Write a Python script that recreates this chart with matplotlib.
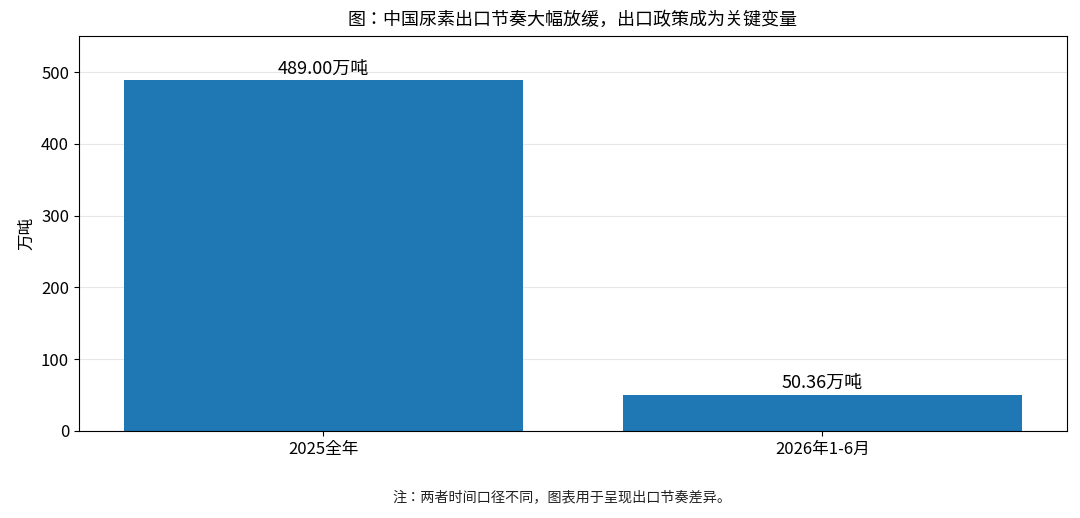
import numpy as np
import matplotlib
matplotlib.use("Agg")
import matplotlib.pyplot as plt

plt.rcParams['font.family'] = ['Noto Sans CJK JP', 'DejaVu Sans']
plt.rcParams['axes.unicode_minus'] = False

# data
categories = ['2025全年', '2026年1-6月']
values = [489.00, 50.36]
unit = '万吨'
title = '图：中国尿素出口节奏大幅放缓，出口政策成为关键变量'
note = '注：两者时间口径不同，图表用于呈现出口节奏差异。'

fig = plt.figure(figsize=(10.8, 5.18), dpi=100)
ax = fig.add_axes([0.073, 0.168, 0.915, 0.762])

x = np.arange(len(categories))
bars = ax.bar(x, values, width=0.8, color='#1f77b4')
ax.set_xticks(x)
ax.set_xticklabels(categories, fontsize=12)
ax.tick_params(axis='y', labelsize=12)
ax.set_ylim(0, max(values) * 1.125)
ax.set_ylabel(unit, fontsize=12)
ax.set_title(title, fontsize=13, pad=8)
ax.yaxis.grid(True, color='#d8d8d8', alpha=0.6, linewidth=0.8)
ax.set_axisbelow(True)

for b, v in zip(bars, values):
    ax.annotate(f'{v:.2f}{unit}', (b.get_x() + b.get_width() / 2, v),
                xytext=(0, 2), textcoords='offset points',
                ha='center', va='bottom', fontsize=13)

fig.text(0.52, 0.04, note, ha='center', va='center', fontsize=10.2, color='#222222')

fig.savefig('out.png', dpi=100)
